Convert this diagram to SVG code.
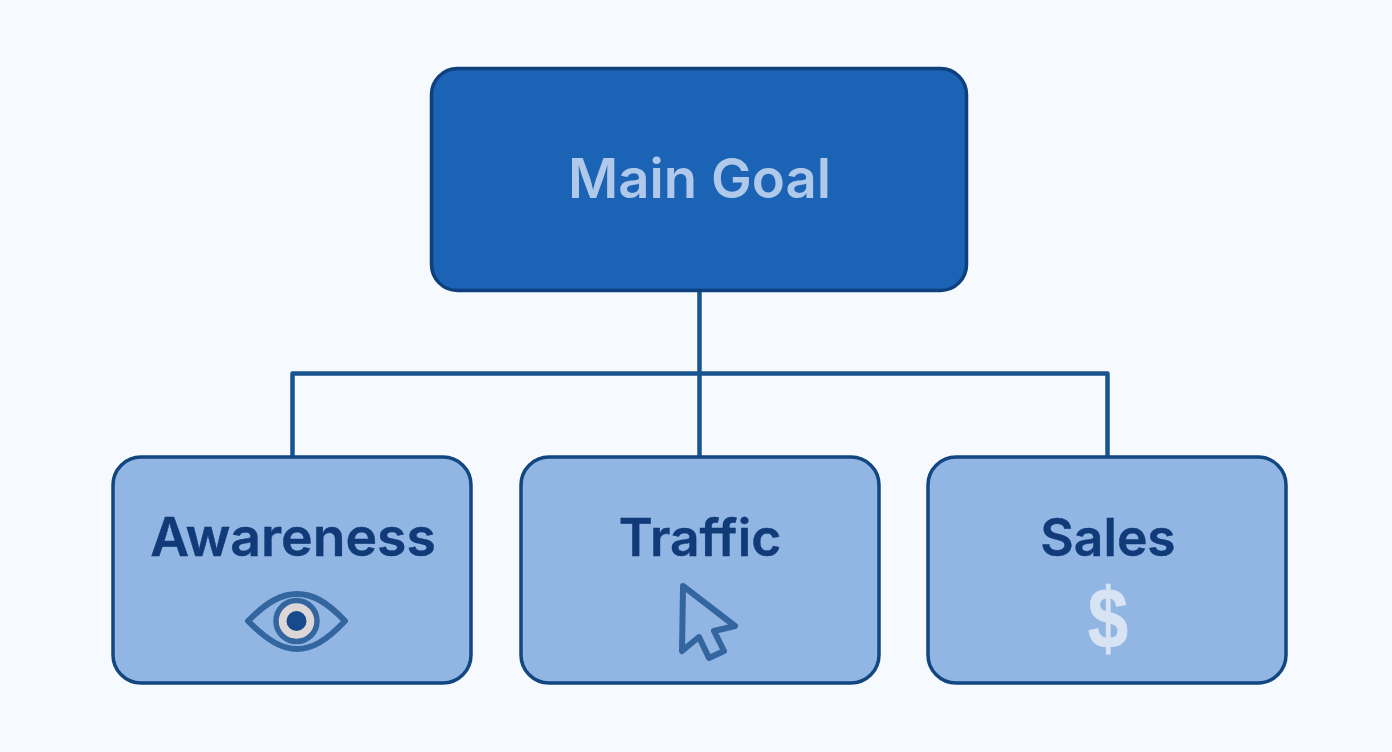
<svg xmlns="http://www.w3.org/2000/svg" width="1392" height="752" viewBox="0 0 1392 752">
<style>
.top{fill:#1b63b5;stroke:#0f3f7c;stroke-width:3.500}
.box{fill:#92b6e4;stroke:#124680;stroke-width:3.500}
.lbl{font-family:Inter,"Liberation Sans",sans-serif;font-weight:600;text-anchor:middle;font-size:51.500px;fill:#103a78;stroke:#103a78;stroke-width:.4}
.conn{fill:none;stroke:#19548f;stroke-width:4.500;stroke-linejoin:round}
.ico{fill:none;stroke:#33659f;stroke-width:6;stroke-linejoin:round}
</style>
<rect width="1392" height="752" fill="#f6faff"/>
<g id="connectors">
<path class="conn" d="M699.500 291V457"/>
<path class="conn" d="M292.500 457V373.500H1107.500V457"/>
</g>
<g id="main-goal">
<rect class="top" x="431.500" y="68.500" width="535" height="222" rx="26"/>
<text x="699.500" y="197.500" class="lbl" style="fill:#b0c9ea;stroke:none;font-weight:600;font-size:54.500px">Main Goal</text>
</g>
<g id="awareness">
<rect class="box" x="113" y="457" width="358" height="226" rx="28"/>
<text x="293" y="555.500" class="lbl" style="font-size:53.500px">Awareness</text>
<path class="ico" d="M248 621C268 601 282 594 297 594C312 594 326 601 345 621C326 641 312 649 297 649C282 649 268 641 248 621Z"/>
<circle cx="296.500" cy="621" r="20.500" fill="#dcd7d6" stroke="#33659f" stroke-width="5.500"/>
<circle cx="296.500" cy="621" r="10" fill="#164a8c"/>
</g>
<g id="traffic">
<rect class="box" x="521" y="457" width="358" height="226" rx="28"/>
<text x="700" y="555.500" class="lbl">Traffic</text>
<path class="ico" d="M683 586L735 626L714 631L724 651L709 658L699 637L682 651Z"/>
</g>
<g id="sales">
<rect class="box" x="928" y="457" width="358" height="226" rx="28"/>
<text x="1108" y="555.500" class="lbl">Sales</text>
<text transform="translate(1108 648) scale(1 1.180)" style="font-family:'Liberation Sans',sans-serif;font-weight:700;font-size:72px;text-anchor:middle;fill:#d8e4f3;stroke:#d8e4f3;stroke-width:.8">$</text>
</g>
</svg>
